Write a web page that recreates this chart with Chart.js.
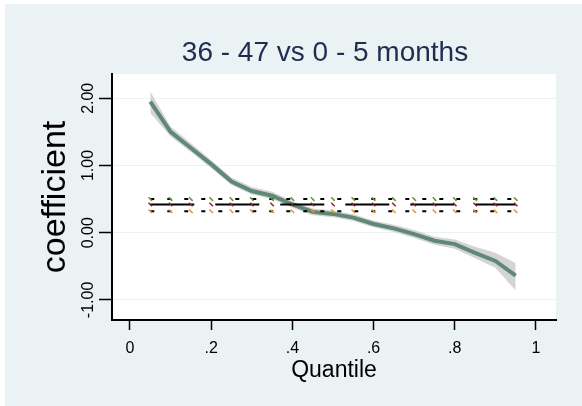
<!DOCTYPE html>
<html>
<head>
<meta charset="utf-8">
<script src="https://cdn.jsdelivr.net/npm/chart.js@4/dist/chart.umd.min.js"></script>
<style>
html,body{margin:0;padding:0;background:#ffffff;}
#wrap{width:582px;height:406px;position:relative;}
</style>
</head>
<body>
<div id="wrap"><canvas id="c"></canvas></div>
<script>
// ---- data ----
const quantiles = [0.05,0.10,0.15,0.20,0.25,0.30,0.35,0.40,0.45,0.50,0.55,0.60,0.65,0.70,0.75,0.80,0.85,0.90,0.95];
const coef      = [1.95,1.50,1.26,1.02,0.76,0.62,0.55,0.42,0.31,0.28,0.225,0.13,0.065,-0.02,-0.12,-0.17,-0.30,-0.42,-0.64];
const ciLower   = [1.78,1.43,1.20,0.96,0.71,0.57,0.50,0.37,0.26,0.23,0.175,0.08,0.01,-0.08,-0.18,-0.24,-0.38,-0.52,-0.86];
const ciUpper   = [2.10,1.58,1.33,1.08,0.82,0.68,0.61,0.47,0.36,0.33,0.275,0.18,0.12,0.04,-0.06,-0.10,-0.21,-0.30,-0.45];
const olsCoef  = 0.42;
const olsLower = 0.32;
const olsUpper = 0.50;
const xTicks = [0,0.2,0.4,0.6,0.8,1];
const xTickLabels = ['0','.2','.4','.6','.8','1'];
const yTicks = [-1,0,1,2];
const yTickLabels = ['-1.00','0.00','1.00','2.00'];
const titleText = '36 - 47 vs 0 - 5 months';
const xTitle = 'Quantile';
const yTitle = 'coefficient';

const FONT = 'Liberation Sans, Arial, sans-serif';
const BG = 'rgb(234,242,243)';

const bgPlugin = {
  id: 'bgPlugin',
  beforeDraw(chart) {
    const {ctx, chartArea: a} = chart;
    ctx.save();
    ctx.fillStyle = '#ffffff';
    ctx.fillRect(0, 0, chart.width, chart.height);
    ctx.fillStyle = BG;
    ctx.fillRect(5, 4, chart.width - 5, chart.height - 4);
    ctx.fillStyle = '#ffffff';
    ctx.fillRect(a.left, a.top, a.right - a.left, a.bottom - a.top);
    ctx.restore();
  }
};

const pts = arr => quantiles.map((q, i) => ({x: q, y: arr[i]}));
const flat = v => quantiles.map(q => ({x: q, y: v}));

// layout: plot area from x=112 to x=556; title centred at x~325
const PAD_RIGHT = -68;
const RIGHT_SPACER = 582 - PAD_RIGHT - 556;

new Chart(document.getElementById('c'), {
  type: 'line',
  data: {
    datasets: [
      { label: 'ci lower', data: pts(ciLower), borderWidth: 0, pointRadius: 0, fill: false, order: 10, borderColor: 'rgba(0,0,0,0)' },
      { label: 'ci upper', data: pts(ciUpper), borderWidth: 0, pointRadius: 0, fill: '-1', order: 10, borderColor: 'rgba(0,0,0,0)', backgroundColor: 'rgb(212,212,212)' },
      { label: 'coef', data: pts(coef), borderColor: 'rgb(96,136,118)', borderWidth: 4, pointRadius: 0, fill: false, order: 5 },
      { label: 'ols', data: flat(olsCoef), borderColor: '#000', borderWidth: 2, borderDash: [44, 21], fill: false, order: 1,
        pointStyle: 'line', pointRadius: 2.5, pointRotation: 45, pointBorderColor: 'rgb(150,30,50)', pointBorderWidth: 1.5 },
      { label: 'ols upper', data: flat(olsUpper), borderColor: '#000', borderWidth: 2, borderDash: [4, 13], fill: false, order: 1,
        pointStyle: 'line', pointRadius: 2.5, pointRotation: 45, pointBorderColor: 'rgb(100,145,60)', pointBorderWidth: 1.5 },
      { label: 'ols lower', data: flat(olsLower), borderColor: '#000', borderWidth: 2, borderDash: [4, 13], fill: false, order: 1,
        pointStyle: 'line', pointRadius: 2.5, pointRotation: 45, pointBorderColor: 'rgb(235,145,30)', pointBorderWidth: 1.5 }
    ]
  },
  options: {
    responsive: true,
    maintainAspectRatio: false,
    animation: false,
    devicePixelRatio: 1,
    elements: { line: { tension: 0 } },
    layout: { padding: { left: 0, right: PAD_RIGHT, top: 0, bottom: 0 } },
    plugins: {
      legend: { display: false },
      tooltip: { enabled: false },
      title: {
        display: true, text: titleText, fullSize: true,
        font: { family: FONT, size: 28, weight: 'normal', lineHeight: 1.2 },
        color: 'rgb(30,45,80)',
        padding: { top: 36.5, bottom: 3.9 }
      }
    },
    scales: {
      x: {
        type: 'linear', min: -0.0443, max: 1.0493,
        afterBuildTicks: s => { s.ticks = xTicks.map(v => ({value: v})); },
        afterFit: s => { s.height = 86; },
        ticks: {
          callback: (v, i) => xTickLabels[i],
          font: { family: FONT, size: 16 }, color: '#000', padding: 9,
          maxRotation: 0, minRotation: 0, autoSkip: false
        },
        grid: { drawOnChartArea: false, tickLength: 10, tickColor: '#000', tickWidth: 1.5 },
        border: { color: '#000', width: 2 },
        title: { display: true, text: xTitle, font: { family: FONT, size: 23, lineHeight: 1.2 }, color: '#000', padding: { top: 0, bottom: 22 } }
      },
      y: {
        type: 'linear', position: 'left', min: -1.299, max: 2.3616,
        afterBuildTicks: s => { s.ticks = yTicks.map(v => ({value: v})); },
        afterFit: s => { s.width = 112; },
        ticks: {
          callback: (v, i) => yTickLabels[i],
          minRotation: 90, maxRotation: 90, crossAlign: 'center', padding: -8,
          font: { family: FONT, size: 16 }, color: '#000', autoSkip: false
        },
        grid: { color: BG, lineWidth: 1, tickLength: 13, tickColor: '#000', tickWidth: 1.5 },
        border: { color: '#000', width: 2 },
        title: { display: true, text: yTitle, font: { family: FONT, size: 34, lineHeight: 1.2 }, color: '#000', padding: { top: 35.6, bottom: 0 } }
      },
      ySpacer: {
        type: 'linear', axis: 'y', position: 'right', display: true,
        afterFit: s => { s.width = RIGHT_SPACER; },
        ticks: { display: false },
        grid: { display: false, drawOnChartArea: false },
        border: { display: false },
        title: { display: false }
      }
    }
  },
  plugins: [bgPlugin]
});
</script>
</body>
</html>
